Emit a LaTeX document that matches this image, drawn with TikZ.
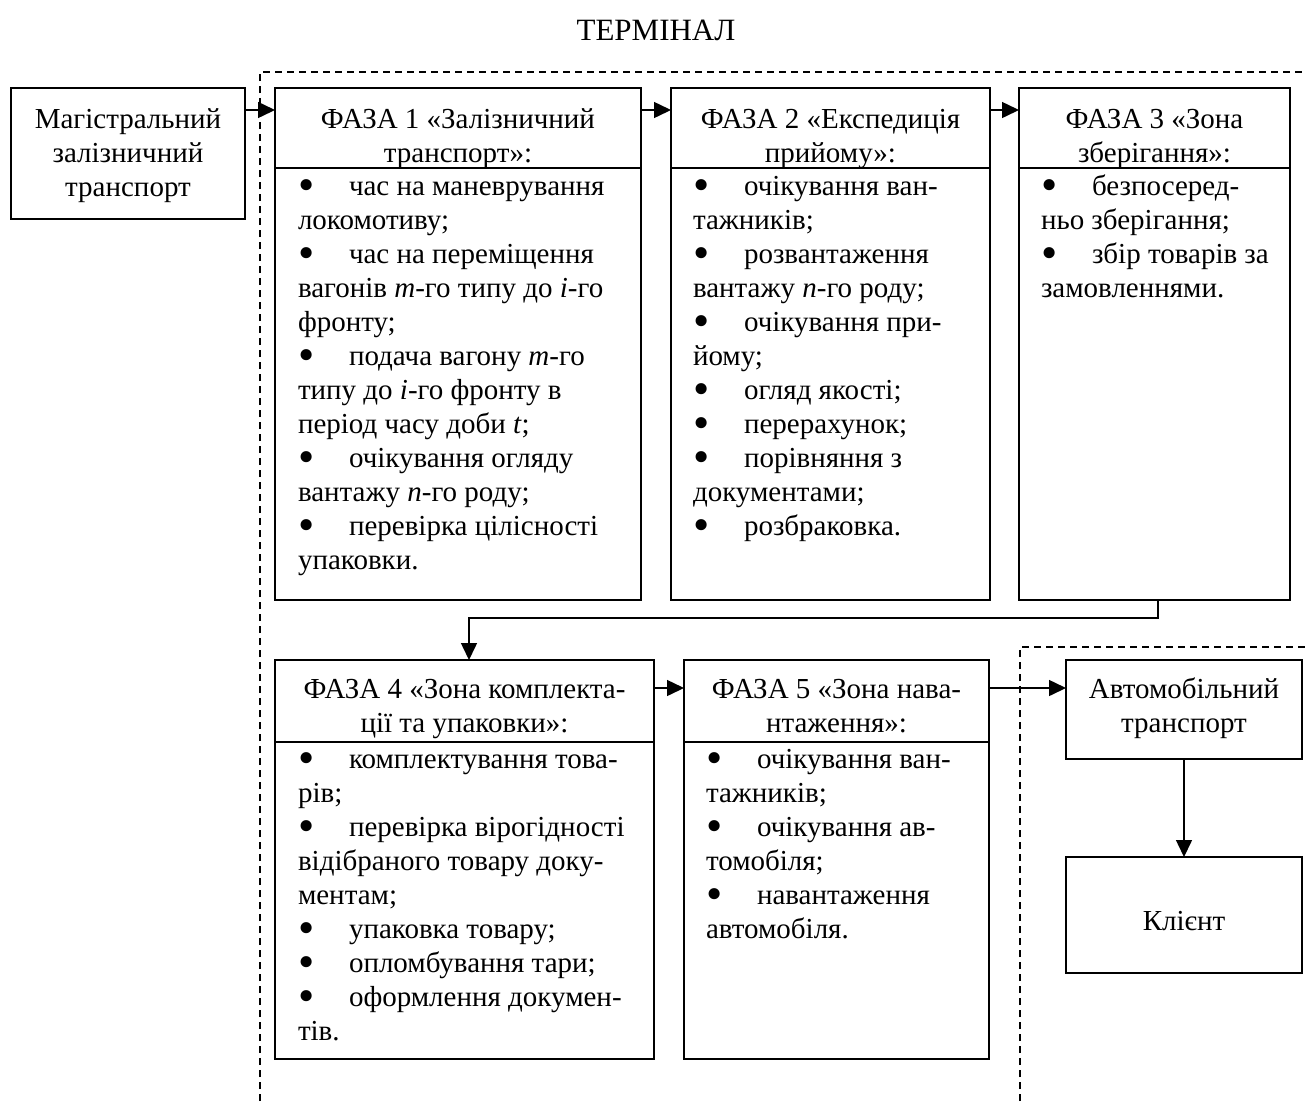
\documentclass[tikz,border=0pt]{standalone}
\usepackage{fontspec}
\usepackage{graphicx}
\setmainfont{Liberation Serif}
\usetikzlibrary{arrows.meta}
\newcommand\bl{\makebox[51pt][l]{\smash{\raisebox{-5pt}{\scalebox{1.6}{\textbullet}}}}}
\begin{document}
\begin{tikzpicture}[x=1pt,y=-1pt,
  box/.style={draw, line width=1.5pt, rectangle, anchor=north west, inner sep=0pt, outer sep=0pt},
  txt/.style={font=\fontsize{29}{34}\selectfont, inner sep=0pt, outer sep=0pt},
  hdr/.style={txt, align=center, anchor=north},
  body/.style={txt, align=left, anchor=north west},
  arr/.style={line width=1.5pt, -{Triangle[length=17pt,width=16pt]}},
  dsh/.style={line width=1.5pt, dash pattern=on 7pt off 5pt},
  sep/.style={line width=1.5pt}]
\useasboundingbox (0,0) rectangle (1306,1101);
% dashed terminal frames
\coordinate (d1a) at (260,1101);
\coordinate (d1b) at (260,72);
\coordinate (d1c) at (1306,72);
\draw[dsh] (d1a) -- (d1b) -- (d1c);
\coordinate (d2a) at (1020,1101);
\coordinate (d2b) at (1020,647);
\coordinate (d2c) at (1306,647);
\draw[dsh] (d2a) -- (d2b) -- (d2c);
% title
\node[hdr, font=\fontsize{31}{34}\selectfont] (title) at (656,17) {\strut ТЕРМІНАЛ};
% boxes
\node[box, minimum width=234pt, minimum height=131pt] (mag) at (11,88) {};
\node[box, minimum width=366pt, minimum height=512pt] (ph1) at (275,88) {};
\node[box, minimum width=319pt, minimum height=512pt] (ph2) at (671,88) {};
\node[box, minimum width=271pt, minimum height=512pt] (ph3) at (1019,88) {};
\node[box, minimum width=379pt, minimum height=399pt] (ph4) at (275,660) {};
\node[box, minimum width=305pt, minimum height=399pt] (ph5) at (684,660) {};
\node[box, minimum width=236pt, minimum height=99pt] (auto) at (1066,660) {};
\node[box, minimum width=236pt, minimum height=116pt] (kl) at (1066,857) {};
% separators
\draw[sep] (ph1.west |- 0,168) -- (ph1.east |- 0,168);
\draw[sep] (ph2.west |- 0,168) -- (ph2.east |- 0,168);
\draw[sep] (ph3.west |- 0,168) -- (ph3.east |- 0,168);
\draw[sep] (ph4.west |- 0,742) -- (ph4.east |- 0,742);
\draw[sep] (ph5.west |- 0,742) -- (ph5.east |- 0,742);
% texts
\node[hdr] (tmag) at (128,105) {\strut Магістральний\\залізничний\\транспорт};
\node[hdr] (h1) at (458,105) {\strut ФАЗА 1 «Залізничний\\транспорт»:};
\node[hdr] (h2) at (830.5,105) {\strut ФАЗА 2 «Експедиція\\прийому»:};
\node[hdr] (h3) at (1154.5,105) {\strut ФАЗА 3 «Зона\\зберігання»:};
\node[hdr] (h4) at (464.5,675) {\strut ФАЗА 4 «Зона комплекта-\\ції та упаковки»:};
\node[hdr] (h5) at (836.5,675) {\strut ФАЗА 5 «Зона нава-\\нтаження»:};
\node[hdr] (tauto) at (1184,675) {\strut Автомобільний\\транспорт};
\node[hdr] (tkl) at (1184,907) {\strut Клієнт};
\node[body] (b1) at (298,172) {\strut\bl час на маневрування\\локомотиву;\\\bl час на переміщення\\вагонів \textit{m}-го типу до \textit{i}-го\\фронту;\\\bl подача вагону \textit{m}-го\\типу до \textit{i}-го фронту в\\період часу доби \textit{t};\\\bl очікування огляду\\вантажу \textit{n}-го роду;\\\bl перевірка цілісності\\упаковки.};
\node[body] (b2) at (693,172) {\strut\bl очікування ван-\\тажників;\\\bl розвантаження\\вантажу \textit{n}-го роду;\\\bl очікування при-\\йому;\\\bl огляд якості;\\\bl перерахунок;\\\bl порівняння з\\документами;\\\bl розбраковка.};
\node[body] (b3) at (1041,172) {\strut\bl безпосеред-\\ньо зберігання;\\\bl збір товарів за\\замовленнями.};
\node[body] (b4) at (298,745) {\strut\bl комплектування това-\\рів;\\\bl перевірка вірогідності\\відібраного товару доку-\\ментам;\\\bl упаковка товару;\\\bl опломбування тари;\\\bl оформлення докумен-\\тів.};
\node[body] (b5) at (706,745) {\strut\bl очікування ван-\\тажників;\\\bl очікування ав-\\томобіля;\\\bl навантаження\\автомобіля.};
% connectors
\draw[arr] ([yshift=-22pt]mag.north east) -- ([yshift=-22pt]ph1.north west);
\draw[arr] ([yshift=-22pt]ph1.north east) -- ([yshift=-22pt]ph2.north west);
\draw[arr] ([yshift=-22pt]ph2.north east) -- ([yshift=-22pt]ph3.north west);
\coordinate (t1) at (1158,618);
\coordinate (t2) at (469,618);
\draw[arr] (ph3.south -| t1) -- (t1) -- (t2) -- (t2 |- ph4.north);
\draw[arr] ([yshift=-28pt]ph4.north east) -- ([yshift=-28pt]ph5.north west);
\draw[arr] ([yshift=-28pt]ph5.north east) -- ([yshift=-28pt]auto.north west);
\draw[arr] (auto.south) -- (kl.north);
\end{tikzpicture}
\end{document}
